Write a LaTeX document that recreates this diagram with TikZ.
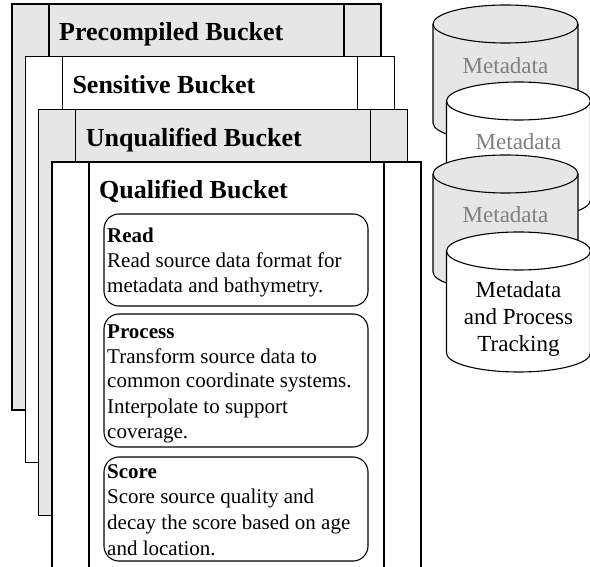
\documentclass[tikz,border=0pt]{standalone}
\usepackage{fontspec}
\setmainfont{Liberation Serif}
\definecolor{bgray}{RGB}{230,230,230}
\definecolor{mgray}{RGB}{128,128,128}
\tikzset{
  outl/.style={draw=black, line width=1.1pt},
  bhead/.style={anchor=base west, inner sep=0pt, font=\fontsize{26}{30}\selectfont\bfseries},
  btxt/.style={anchor=base west, inner sep=0pt, font=\fontsize{21}{25}\selectfont},
  btitle/.style={anchor=base west, inner sep=0pt, font=\fontsize{21}{25}\selectfont\bfseries},
  stepbox/.style={outl, rounded corners=15pt},
  ctxt/.style={anchor=base, inner sep=0pt, font=\fontsize{23}{27}\selectfont},
}
\newcommand{\bucket}[3]{% left, top, fill
  \filldraw[outl, fill=#3] (#1,#2) rectangle ({#1+369},{#2+406});
  \draw[outl] ({#1+37},#2) -- ({#1+37},{#2+406});
  \draw[outl] ({#1+332},#2) -- ({#1+332},{#2+406});
}
\newcommand{\cyl}[5]{% cx, top, bottom, fill, rx
  \filldraw[outl, fill=#4] ({#1-#5},#2) -- ({#1-#5},#3)
    arc[start angle=180, end angle=0, x radius=#5, y radius=19]
    -- ({#1+#5},#2)
    arc[start angle=0, end angle=-180, x radius=#5, y radius=19] -- cycle;
  \draw[outl] ({#1-#5},#2) arc[start angle=180, end angle=0, x radius=#5, y radius=19];
}
\begin{document}
\begin{tikzpicture}[x=1pt, y=-1pt]
\useasboundingbox (0,0) rectangle (590,567);
\clip (0,0) rectangle (590,567);
\fill[white] (0,0) rectangle (590,567);
% buckets
\bucket{12}{4}{bgray}
\node[bhead] (pre) at (59,41) {Precompiled Bucket};
\bucket{25.3}{56.7}{white}
\node[bhead] (sen) at (72.3,93.7) {Sensitive Bucket};
\bucket{38.7}{109.3}{bgray}
\node[bhead] (unq) at (85.7,146.3) {Unqualified Bucket};
\bucket{52}{162}{white}
\node[bhead] (qua) at (99,199) {Qualified Bucket};
% steps
\draw[stepbox] (104,214) rectangle (368,306);
\node[btitle] (r0) at (107,243) {Read};
\node[btxt] (r1) at (107,268) {Read source data format for};
\node[btxt] (r2) at (107,293) {metadata and bathymetry.};
\draw[stepbox] (104,314) rectangle (368,447);
\node[btitle] (p0) at (107,338) {Process};
\node[btxt] (p1) at (107,363) {Transform source data to};
\node[btxt] (p2) at (107,388) {common coordinate systems.};
\node[btxt] (p3) at (107,413) {Interpolate to support};
\node[btxt] (p4) at (107,438) {coverage.};
\draw[stepbox] (104,457) rectangle (368,561);
\node[btitle] (s0) at (107,478) {Score};
\node[btxt] (s1) at (107,503) {Score source quality and};
\node[btxt] (s2) at (107,529) {decay the score based on age};
\node[btxt] (s3) at (107,555) {and location.};
% cylinders
\cyl{505.5}{24}{123}{bgray}{72.5}
\node[ctxt, text=mgray] (m1) at (505.5,74) {Metadata};
\cyl{518.5}{101}{200}{white}{72}
\node[ctxt, text=mgray] (m2) at (518.5,150) {Metadata};
\cyl{505.5}{174}{272}{bgray}{72.5}
\node[ctxt, text=mgray] (m3) at (505.5,223) {Metadata};
\cyl{518.5}{251}{353}{white}{72}
\node[ctxt] (m4a) at (518.5,298) {Metadata};
\node[ctxt] (m4b) at (518.5,325) {and Process};
\node[ctxt] (m4c) at (518.5,352) {Tracking};
\end{tikzpicture}
\end{document}
